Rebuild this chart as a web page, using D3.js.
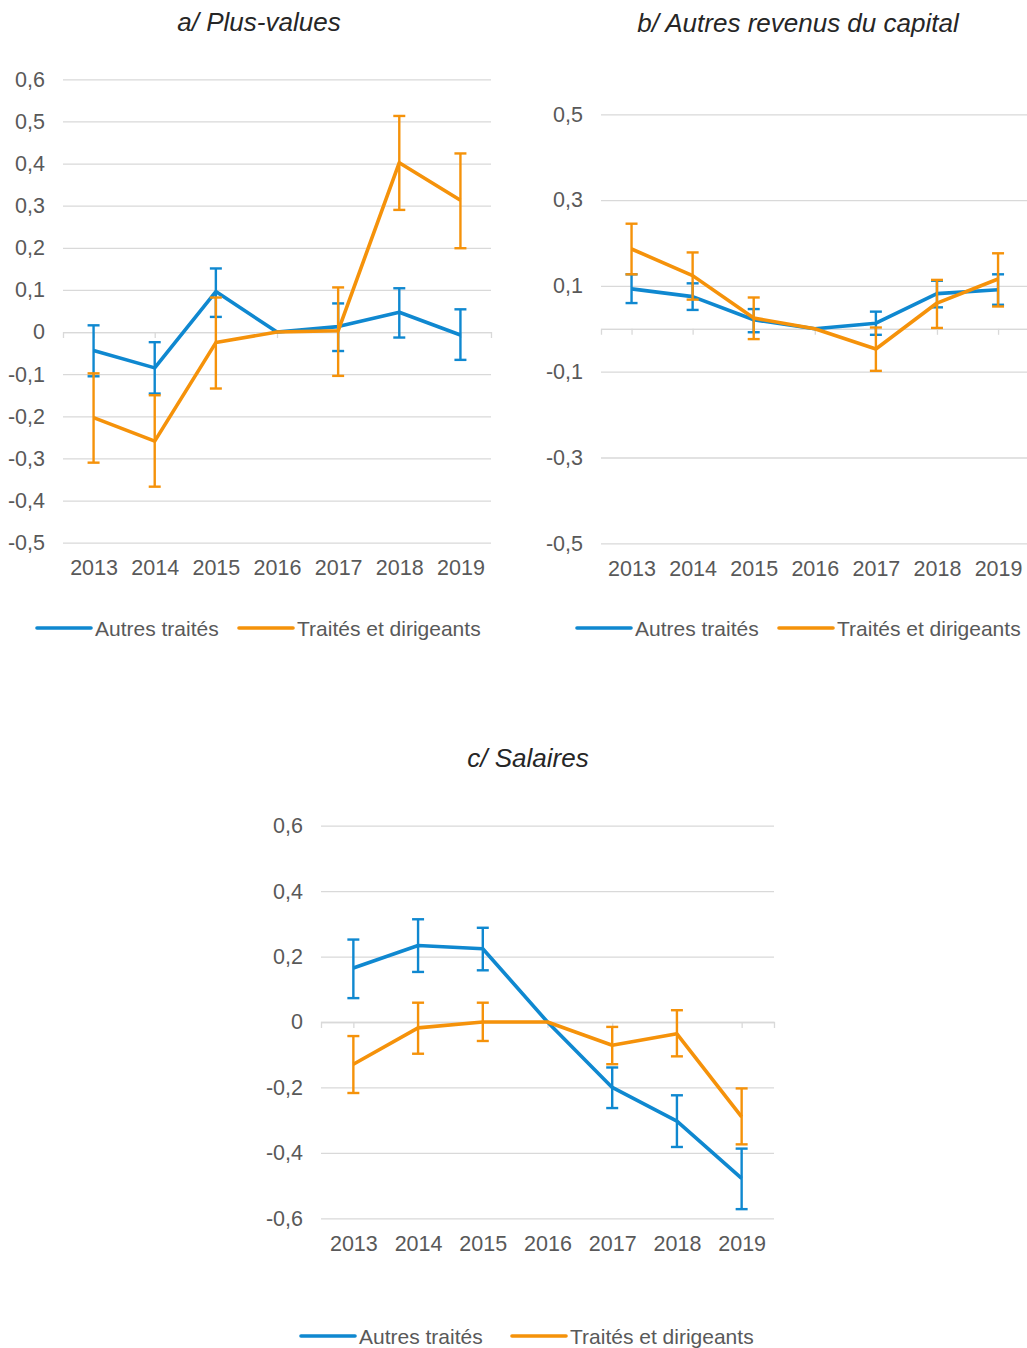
<!DOCTYPE html>
<html>
<head>
<meta charset="utf-8">
<script src="https://cdn.jsdelivr.net/npm/d3@7"></script>
<style>
	body { margin: 0; background: #fff; }
	text { font-family: "Liberation Sans", Arial, sans-serif; fill: #595959; }
	.title { font-style: italic; font-size: 26px; fill: #262626; }
	.tick text { font-size: 21.5px; }
	.legend text { font-size: 21px; }
</style>
</head>
<body>
<script>
//the years, shared by all three panels
var years = ["2013", "2014", "2015", "2016", "2017", "2018", "2019"];

//a/ Plus-values
var plusAutres      = [-0.044, -0.085,  0.096, 0,  0.013,  0.047, -0.007],
	plusAutresHaut  = [ 0.016, -0.024,  0.151, null,  0.068,  0.104,  0.054],
	plusAutresBas   = [-0.105, -0.146,  0.036, null, -0.045, -0.013, -0.066],
	plusTraites     = [-0.203, -0.259, -0.025, 0,  0.003,  0.402,  0.313],
	plusTraitesHaut = [-0.098, -0.150,  0.082, null,  0.106,  0.513,  0.424],
	plusTraitesBas  = [-0.310, -0.367, -0.134, null, -0.104,  0.290,  0.199],
	plusTicks = [0.6, 0.5, 0.4, 0.3, 0.2, 0.1, 0, -0.1, -0.2, -0.3, -0.4, -0.5];

//b/ Autres revenus du capital
var capAutres      = [0.093, 0.075,  0.021, 0,  0.013, 0.082, 0.091],
	capAutresHaut  = [0.127, 0.106,  0.046, null,  0.040, 0.112, 0.127],
	capAutresBas   = [0.060, 0.044, -0.008, null, -0.014, 0.050, 0.056],
	capTraites     = [0.186, 0.124,  0.025, 0, -0.047, 0.060, 0.116],
	capTraitesHaut = [0.245, 0.178,  0.073, null,  0.003, 0.114, 0.176],
	capTraitesBas  = [0.127, 0.068, -0.024, null, -0.098, 0.002, 0.052],
	capTicks = [0.5, 0.3, 0.1, 0, -0.1, -0.3, -0.5];

//c/ Salaires
var salAutres      = [ 0.165,  0.234,  0.224, 0, -0.200, -0.303, -0.478],
	salAutresHaut  = [ 0.252,  0.314,  0.288, null, -0.139, -0.224, -0.387],
	salAutresBas   = [ 0.073,  0.153,  0.158, null, -0.263, -0.382, -0.572],
	salTraites     = [-0.129, -0.018,  0.000, 0, -0.071, -0.036, -0.290],
	salTraitesHaut = [-0.043,  0.059,  0.059, null, -0.015,  0.036, -0.203],
	salTraitesBas  = [-0.217, -0.097, -0.058, null, -0.129, -0.105, -0.374],
	salTicks = [0.6, 0.4, 0.2, 0, -0.2, -0.4, -0.6];

var seriesNames = ["Autres traités", "Traités et dirigeants"],
	seriesColors = ["#0f88d0", "#f5920a"];

var capLen = 6;

var svg = d3.select("body").append("svg")
	.attr("width", 1027)
	.attr("height", 1348);

//////////////
// one panel
//////////////
function drawPanel(p) {
	var g = svg.append("g");

	var xScale = d3.scalePoint().domain(years).range([p.left, p.right]).padding(0.5);
	var yScale = d3.scaleLinear().domain(p.domain).range([p.bottom, p.top]);

	//gridlines + y labels
	var yAxis = d3.axisLeft(yScale)
		.tickValues(p.ticks)
		.tickSize(-(p.right - p.left))
		.tickPadding(18)
		.tickFormat(function(d) {
			if (d === 0 && p.hideZero) return "";
			return d3.format("")(Math.round(d * 10) / 10).replace(".", ",").replace("−", "-");
		});
	var gY = g.append("g")
		.attr("transform", "translate(" + p.left + ",0)")
		.call(yAxis);
	gY.select(".domain").remove();
	gY.selectAll(".tick line").style("stroke", "#d9d9d9").style("stroke-width", 1.3);

	//axis at zero with small ticks
	var gX = g.append("g")
		.attr("transform", "translate(0," + yScale(0) + ")")
		.call(d3.axisBottom(xScale).tickSize(6).tickSizeOuter(6));
	gX.selectAll("text").remove();
	gX.selectAll("line, path").style("stroke", "#d9d9d9").style("stroke-width", 1.3);

	//year labels at the bottom
	var gL = g.append("g")
		.attr("transform", "translate(0," + p.bottom + ")")
		.call(d3.axisBottom(xScale).tickSize(0).tickPadding(17));
	gL.select(".domain").remove();

	//series: line then error bars
	p.series.forEach(function(s, k) {
		var color = seriesColors[k];
		var pts = years.map(function(y, i) {
			return {x: y, v: s.v[i], hi: s.hi[i], lo: s.lo[i]};
		});

		g.append("path")
			.datum(pts)
			.attr("fill", "none")
			.attr("stroke", color)
			.attr("stroke-width", 3.6)
			.attr("stroke-linejoin", "round")
			.attr("d", d3.line()
				.x(function(d) { return xScale(d.x); })
				.y(function(d) { return yScale(d.v); }));

		var bars = pts.filter(function(d) { return d.hi != null; });
		var eb = g.append("g")
			.style("stroke", color)
			.style("stroke-width", 2.4);
		eb.selectAll(".error-line")
			.data(bars).enter()
			.append("line")
			.attr("class", "error-line")
			.attr("x1", function(d) { return xScale(d.x); })
			.attr("x2", function(d) { return xScale(d.x); })
			.attr("y1", function(d) { return yScale(d.hi); })
			.attr("y2", function(d) { return yScale(d.lo); });
		eb.selectAll(".error-cap-top")
			.data(bars).enter()
			.append("line")
			.attr("class", "error-cap-top")
			.attr("x1", function(d) { return xScale(d.x) - capLen; })
			.attr("x2", function(d) { return xScale(d.x) + capLen; })
			.attr("y1", function(d) { return yScale(d.hi); })
			.attr("y2", function(d) { return yScale(d.hi); });
		eb.selectAll(".error-cap-bottom")
			.data(bars).enter()
			.append("line")
			.attr("class", "error-cap-bottom")
			.attr("x1", function(d) { return xScale(d.x) - capLen; })
			.attr("x2", function(d) { return xScale(d.x) + capLen; })
			.attr("y1", function(d) { return yScale(d.lo); })
			.attr("y2", function(d) { return yScale(d.lo); });
	});

	//title
	g.append("text")
		.attr("class", "title")
		.attr("x", p.titleX)
		.attr("y", p.titleY)
		.style("text-anchor", "middle")
		.text(p.title);

	//legend
	var lg = g.append("g").attr("class", "legend");
	p.legendX.forEach(function(lx, k) {
		lg.append("line")
			.attr("x1", lx).attr("x2", lx + 54)
			.attr("y1", p.legendY).attr("y2", p.legendY)
			.attr("stroke", seriesColors[k])
			.attr("stroke-width", 3.6)
			.attr("stroke-linecap", "round");
		lg.append("text")
			.attr("x", lx + 58)
			.attr("y", p.legendY + 7.5)
			.text(seriesNames[k]);
	});
}

drawPanel({
	left: 63, right: 491, top: 79.3, bottom: 542.7, domain: [-0.5, 0.6],
	ticks: plusTicks, hideZero: false,
	title: "a/ Plus-values", titleX: 259, titleY: 31,
	legendX: [37, 239], legendY: 628,
	series: [
		{v: plusAutres, hi: plusAutresHaut, lo: plusAutresBas},
		{v: plusTraites, hi: plusTraitesHaut, lo: plusTraitesBas}
	]
});

drawPanel({
	left: 601, right: 1028.6, top: 114.3, bottom: 543.3, domain: [-0.5, 0.5],
	ticks: capTicks, hideZero: true,
	title: "b/ Autres revenus du capital", titleX: 798, titleY: 32,
	legendX: [577, 779], legendY: 628,
	series: [
		{v: capAutres, hi: capAutresHaut, lo: capAutresBas},
		{v: capTraites, hi: capTraitesHaut, lo: capTraitesBas}
	]
});

drawPanel({
	left: 321, right: 774, top: 825.7, bottom: 1218.3, domain: [-0.6, 0.6],
	ticks: salTicks, hideZero: false,
	title: "c/ Salaires", titleX: 528, titleY: 767,
	legendX: [301, 512], legendY: 1336,
	series: [
		{v: salAutres, hi: salAutresHaut, lo: salAutresBas},
		{v: salTraites, hi: salTraitesHaut, lo: salTraitesBas}
	]
});
</script>
</body>
</html>
